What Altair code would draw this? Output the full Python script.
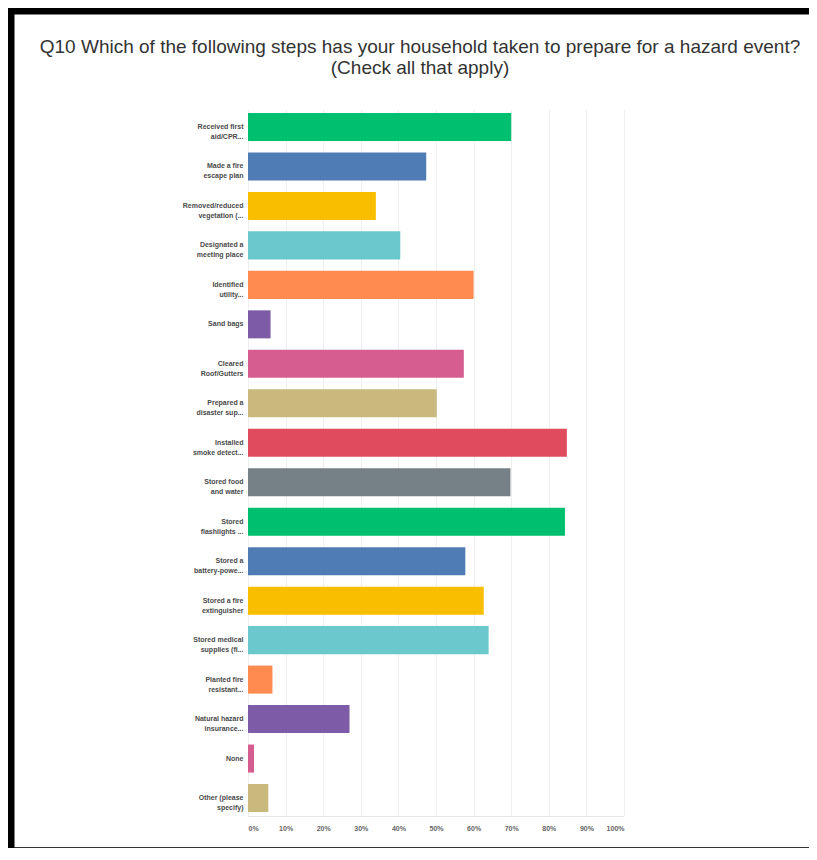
import altair as alt
import pandas as pd

categories = [
    "Received first|aid/CPR...",
    "Made a fire|escape plan",
    "Removed/reduced|vegetation (...",
    "Designated a|meeting place",
    "Identified|utility...",
    "Sand bags",
    "Cleared|Roof/Gutters",
    "Prepared a|disaster sup...",
    "Installed|smoke detect...",
    "Stored food|and water",
    "Stored|flashlights ...",
    "Stored a|battery-powe...",
    "Stored a fire|extinguisher",
    "Stored medical|supplies (fi...",
    "Planted fire|resistant...",
    "Natural hazard|insurance...",
    "None",
    "Other (please|specify)",
]
values = [70.0, 47.4, 34.0, 40.5, 60.0, 6.0, 57.4, 50.2, 84.8, 69.8,
          84.3, 57.8, 62.7, 64.0, 6.5, 27.0, 1.6, 5.4]
colors = ["#00BF6F", "#507CB6", "#F9BE00", "#6BC8CD", "#FF8B4F",
          "#7D5BA6", "#D65D8F", "#C9B97D", "#E04B5D", "#768087",
          "#00BF6F", "#507CB6", "#F9BE00", "#6BC8CD", "#FF8B4F",
          "#7D5BA6", "#D65D8F", "#C9B97D"]
x_ticks = [0, 10, 20, 30, 40, 50, 60, 70, 80, 90, 100]
title_lines = [
    "Q10 Which of the following steps has your household taken to prepare for a hazard event?",
    "(Check all that apply)",
]

df = pd.DataFrame({"step": categories, "pct": values})

W, H = 376, 707
PAD = {"left": 240, "top": 101, "right": 185, "bottom": 32}

bars = alt.Chart(df).mark_bar().encode(
    y=alt.Y("step:N", sort=categories, title=None,
            scale=alt.Scale(paddingInner=0.29, paddingOuter=0.1),
            axis=alt.Axis(domain=False, ticks=False, labelPadding=5,
                          labelFontSize=7, labelFontWeight="bold",
                          labelColor="#4a4a4a", labelLineHeight=10,
                          labelFont="Liberation Sans",
                          labelExpr="split(datum.label, '|')")),
    x=alt.X("pct:Q", title=None,
            scale=alt.Scale(domain=[0, 100], nice=False),
            axis=alt.Axis(values=x_ticks, labelExpr="datum.value + '%'",
                          grid=True, gridColor="#efefef", gridWidth=1,
                          domain=True, domainColor="#cccccc", domainDash=[1, 1],
                          ticks=False, labelPadding=8, labelFontSize=7,
                          labelFontWeight="bold", labelColor="#666666",
                          labelFont="Liberation Sans", labelFlush=True)),
    color=alt.Color("step:N", scale=alt.Scale(domain=categories, range=colors),
                    legend=None),
)

def hline(y, x0, x1, width, color):
    return alt.Chart(pd.DataFrame({"a": [0]})).mark_rule(
        color=color, strokeWidth=width).encode(
        x=alt.value(x0), x2=alt.value(x1), y=alt.value(y))

def vline(x, y0, y1, width, color):
    return alt.Chart(pd.DataFrame({"a": [0]})).mark_rule(
        color=color, strokeWidth=width).encode(
        x=alt.value(x), y=alt.value(y0), y2=alt.value(y1))

frame = (
    hline(-98, -240, 561, 7, "#000000")
    + vline(-237, -101, 740, 7, "#000000")
    + hline(739, -234, 561, 2, "#333333")
)

def title_text(line, y):
    return alt.Chart(pd.DataFrame({"t": [line]})).mark_text(
        fontSize=19, font="Liberation Sans", color="#333333",
        align="center", baseline="middle").encode(
        text="t:N", x=alt.value(172), y=alt.value(y))

titles = title_text(title_lines[0], -62) + title_text(title_lines[1], -41)

chart = alt.layer(bars, frame, titles).properties(
    width=W, height=H,
    autosize=alt.AutoSizeParams(type="none"),
    padding=PAD,
).configure_view(stroke=None)

chart.save("out.html", embed_options={"renderer": "svg", "actions": False})
